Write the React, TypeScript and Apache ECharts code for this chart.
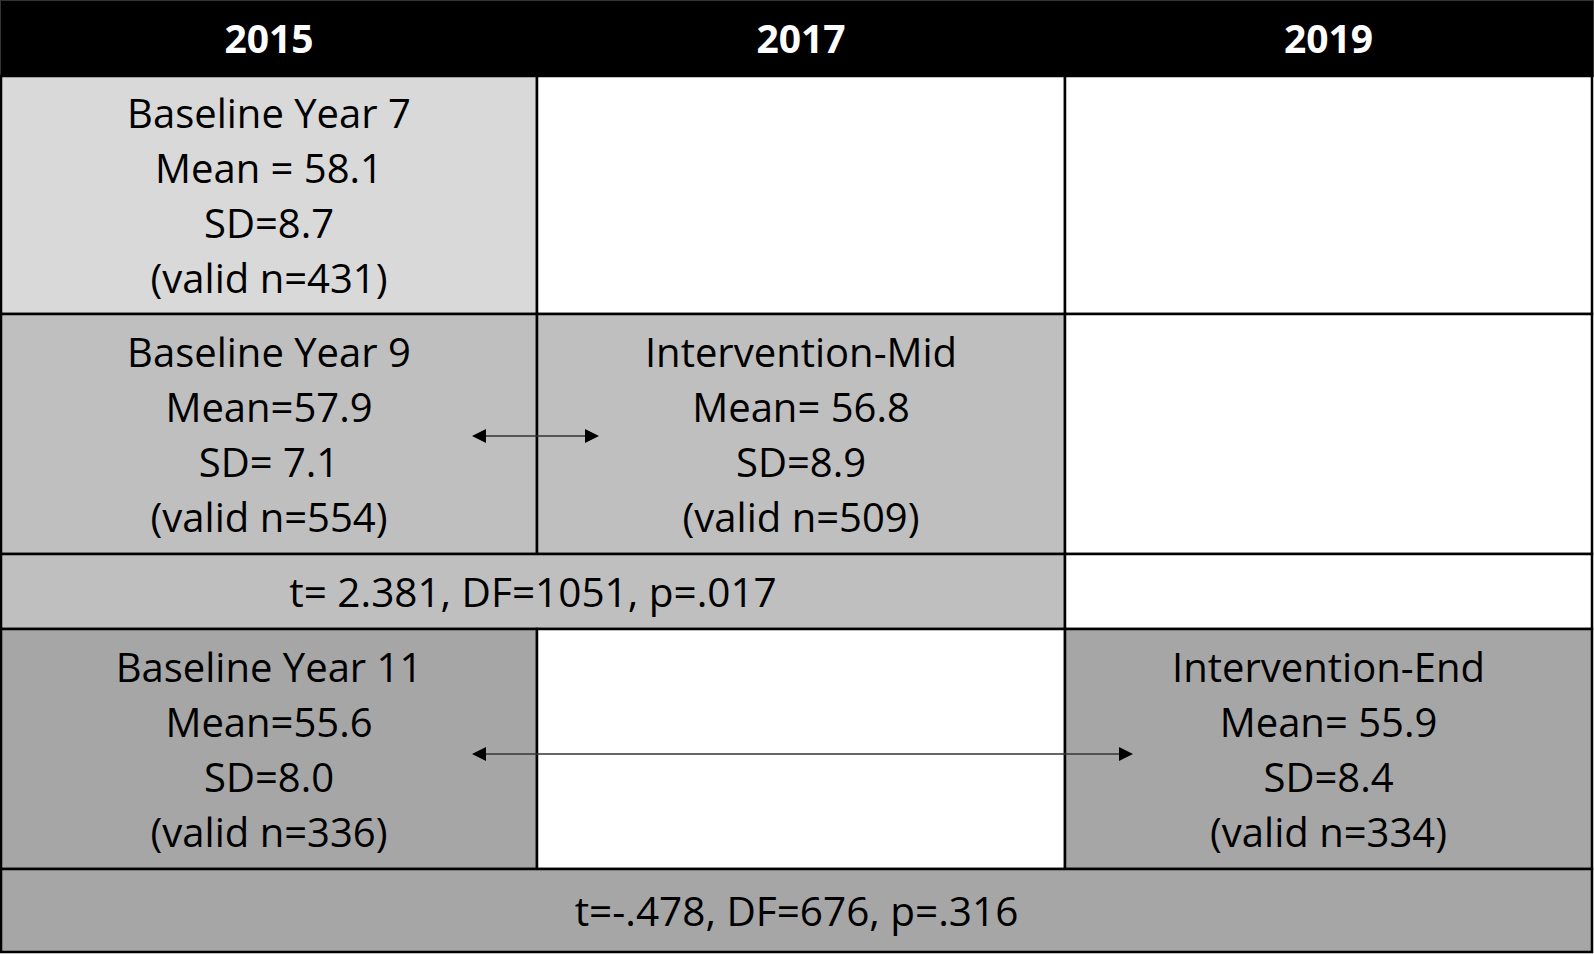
import React, { useEffect, useRef } from "react";
import * as echarts from "echarts";

const years = ["2015", "2017", "2019"];
const cellTitles = ["Baseline Year 7", "Baseline Year 9", "Intervention-Mid", "Baseline Year 11", "Intervention-End"];
const meanLabels = ["Mean = 58.1", "Mean=57.9", "Mean= 56.8", "Mean=55.6", "Mean= 55.9"];
const sdLabels = ["SD=8.7", "SD= 7.1", "SD=8.9", "SD=8.0", "SD=8.4"];
const validN = [431, 554, 509, 336, 334];
const tests = ["t= 2.381, DF=1051, p=.017", "t=-.478, DF=676, p=.316"];

// layout
const COLS = [1, 537, 1065, 1592];
const ROWS = [1, 76, 314, 554, 629, 869, 952];
const FONT = "'Open Sans', Lato, sans-serif";

type Cell = { c0: number; c1: number; r: number; fill: string; idx?: number; test?: number };
const cells: Cell[] = [
  { c0: 0, c1: 1, r: 1, fill: "#d9d9d9", idx: 0 },
  { c0: 1, c1: 2, r: 1, fill: "#ffffff" },
  { c0: 2, c1: 3, r: 1, fill: "#ffffff" },
  { c0: 0, c1: 1, r: 2, fill: "#bfbfbf", idx: 1 },
  { c0: 1, c1: 2, r: 2, fill: "#bfbfbf", idx: 2 },
  { c0: 2, c1: 3, r: 2, fill: "#ffffff" },
  { c0: 0, c1: 2, r: 3, fill: "#bfbfbf", test: 0 },
  { c0: 2, c1: 3, r: 3, fill: "#ffffff" },
  { c0: 0, c1: 1, r: 4, fill: "#a6a6a6", idx: 3 },
  { c0: 1, c1: 2, r: 4, fill: "#ffffff" },
  { c0: 2, c1: 3, r: 4, fill: "#a6a6a6", idx: 4 },
  { c0: 0, c1: 3, r: 5, fill: "#a6a6a6", test: 1 },
];

function arrow(x1: number, x2: number, y: number): any[] {
  const hl = 14, hw = 7;
  return [
    { type: "line", shape: { x1: x1 + hl - 1, y1: y, x2: x2 - hl + 1, y2: y }, style: { stroke: "#333", lineWidth: 1.5 }, z: 20 },
    { type: "polygon", shape: { points: [[x1, y], [x1 + hl, y - hw], [x1 + hl, y + hw]] }, style: { fill: "#000" }, z: 21 },
    { type: "polygon", shape: { points: [[x2, y], [x2 - hl, y - hw], [x2 - hl, y + hw]] }, style: { fill: "#000" }, z: 21 },
  ];
}

export default function App() {
  const ref = useRef<HTMLDivElement>(null);
  useEffect(() => {
    document.body.style.margin = "0";
    const chart = echarts.init(ref.current!, null, { renderer: "svg" });
    const g: any[] = [];
    // header
    g.push({ type: "rect", shape: { x: 0, y: 0, width: 1594, height: ROWS[1] }, style: { fill: "#000", stroke: "#333", lineWidth: 2 }, z: 1 });
    years.forEach((y, i) => {
      g.push({
        type: "text", z: 30,
        style: {
          text: y, x: (COLS[i] + COLS[i + 1]) / 2, y: ROWS[1] / 2 - 1,
          align: "center", verticalAlign: "middle",
          fill: "#fff", font: `bold 39px ${FONT}`,
        },
      });
    });
    cells.forEach((c) => {
      const x0 = COLS[c.c0], x1 = COLS[c.c1], y0 = ROWS[c.r], y1 = ROWS[c.r + 1];
      g.push({ type: "rect", shape: { x: x0, y: y0, width: x1 - x0, height: y1 - y0 }, style: { fill: c.fill, stroke: "#000", lineWidth: 2.5 }, z: 2 });
      const cx = (x0 + x1) / 2, cy = (y0 + y1) / 2;
      if (c.idx !== undefined) {
        const i = c.idx;
        const txt = [cellTitles[i], meanLabels[i], sdLabels[i], `(valid n=${validN[i]})`].join("\n");
        g.push({
          type: "text", z: 30,
          style: { text: txt, x: cx, y: cy, align: "center", verticalAlign: "middle", lineHeight: 55, fill: "#000", font: `40px ${FONT}` },
        });
      }
      if (c.test !== undefined) {
        g.push({
          type: "text", z: 30,
          style: { text: tests[c.test], x: cx, y: cy, align: "center", verticalAlign: "middle", fill: "#000", font: `40.5px ${FONT}` },
        });
      }
    });
    g.push(...arrow(472, 599, 436));
    g.push(...arrow(472, 1133, 754));
    chart.setOption({ animation: false, graphic: g });
    return () => chart.dispose();
  }, []);
  return <div ref={ref} style={{ width: 1594, height: 954, background: "#fff" }} />;
}
